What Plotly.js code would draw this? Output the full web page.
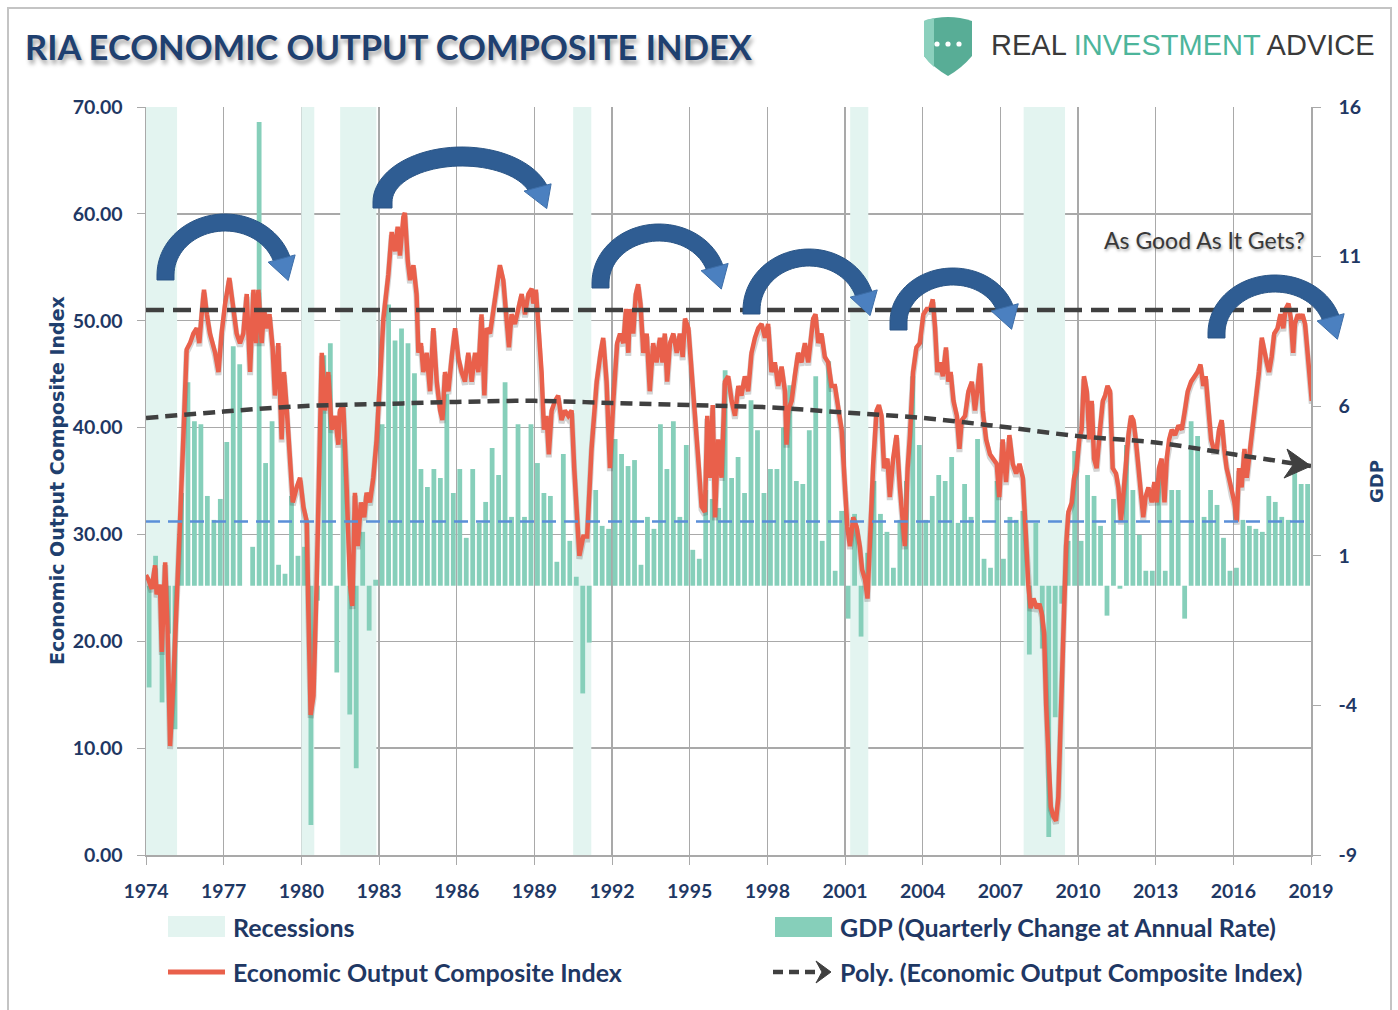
<!DOCTYPE html>
<html><head><meta charset="utf-8">
<script src="https://cdn.plot.ly/plotly-3.0.1.min.js"></script>
<style>html,body{margin:0;padding:0;background:#fff}#chart{width:1398px;height:1010px}</style>
</head><body><div id="chart"></div>
<script>
// ---------------- DATA ----------------
const yearTicks = [1974,1977,1980,1983,1986,1989,1992,1995,1998,2001,2004,2007,2010,2013,2016,2019];
const yearLabels = yearTicks.map(String);
const gdpTicks = [-9,-4,1,6,11,16];
const gdpTickLabels = gdpTicks.map(String);

const recessionStart = [1974.0, 1980.0, 1981.5, 1990.5, 2001.2, 2007.9];
const recessionEnd   = [1975.2, 1980.5, 1982.9, 1991.2, 2001.9, 2009.5];

const gdpFirstYear = 1974; // quarterly, starting 1974 Q1
const gdpValues = [
 -3.4, 1.0,-3.9,-1.6,  -4.8, 3.1, 6.8, 5.5,   5.4, 3.0, 2.2, 2.9,   4.8, 8.0, 7.4, 0.0,
  1.3,15.5, 4.1, 5.5,   0.7, 0.4, 3.0, 1.0,   1.3,-8.0,-0.5, 7.7,   8.1,-2.9, 4.9,-4.3,
 -6.1, 1.8,-1.5, 0.2,   5.4, 9.4, 8.2, 8.6,   8.1, 7.1, 3.9, 3.3,   3.9, 3.6, 6.4, 3.1,
  3.9, 1.6, 3.9, 2.1,   2.8, 4.6, 3.7, 6.8,   2.3, 5.4, 2.3, 5.4,   4.1, 3.1, 3.0, 0.8,
  4.4, 1.5, 0.3,-3.6,  -1.9, 3.2, 2.0, 1.9,   4.9, 4.4, 4.0, 4.2,   0.7, 2.3, 1.9, 5.4,
  3.9, 5.5, 2.3, 4.7,   1.2, 0.9, 3.2, 2.9,   2.6, 7.2, 3.6, 4.3,   3.1, 6.2, 5.2, 3.1,
  3.9, 3.9, 5.3, 6.7,   3.5, 3.4, 5.2, 7.0,   1.5, 7.5, 0.5, 2.5,  -1.1, 2.4,-1.7, 1.1,
  3.5, 2.4, 1.8, 0.6,   2.2, 3.5, 7.0, 4.7,   2.2, 3.0, 3.7, 3.5,   4.3, 2.1, 3.4, 2.3,
  4.9, 0.9, 0.6, 3.5,   0.9, 2.3, 2.2, 2.5,  -2.3, 2.1,-2.1,-8.4,  -4.4,-0.6, 1.5, 4.5,
  1.5, 3.7, 3.0, 2.0,  -1.0, 2.9,-0.1, 4.7,   3.2, 1.7, 0.5, 0.5,   3.6, 0.5, 3.2, 3.2,
 -1.1, 5.5, 5.0, 2.3,   3.2, 2.7, 1.6, 0.5,   0.6, 2.2, 2.0, 1.9,   1.8, 3.0, 2.8, 2.3,
  2.2, 3.8, 3.4, 3.4
];

const eociDates = [
 1974.00,1974.09,1974.22,1974.35,1974.41,1974.54,1974.61,1974.74,1974.83,1974.93,1975.06,1975.19,1975.32,1975.44,1975.57,1975.70,1975.83,1975.96,
 1976.06,1976.15,1976.24,1976.35,1976.47,1976.67,1976.80,1976.92,1977.05,1977.22,1977.38,1977.50,1977.63,1977.76,1977.89,1978.02,1978.15,1978.25,
 1978.34,1978.47,1978.56,1978.66,1978.77,1978.89,1978.98,1979.11,1979.24,1979.33,1979.44,1979.56,1979.67,1979.82,1979.95,1980.08,1980.21,1980.27,
 1980.36,1980.47,1980.59,1980.79,1980.92,1981.04,1981.17,1981.30,1981.43,
 1981.49,1981.62,1981.75,1981.88,1981.97,1982.07,1982.18,1982.30,1982.43,1982.52,1982.65,1982.78,1982.91,1983.04,1983.17,1983.36,1983.49,1983.62,
 1983.72,1983.81,1983.94,1984.00,1984.11,1984.20,1984.33,1984.45,1984.52,1984.62,1984.71,1984.84,1984.97,1985.10,1985.23,1985.36,1985.45,1985.55,
 1985.68,1985.81,1985.94,1986.06,1986.19,1986.32,1986.45,1986.58,1986.71,1986.84,1986.96,1987.07,1987.16,1987.29,1987.42,1987.54,1987.67,1987.80,
 1987.93,1988.02,1988.12,1988.25,1988.38,1988.51,1988.64,1988.77,1988.90,
 1988.96,1989.06,1989.15,1989.28,1989.37,1989.47,1989.56,1989.67,1989.80,1989.92,1990.05,1990.18,1990.31,1990.44,1990.54,1990.63,1990.74,1990.89,
 1991.04,1991.21,1991.41,1991.56,1991.66,1991.79,1991.92,1992.05,1992.20,1992.31,1992.44,1992.54,1992.63,1992.69,1992.82,1992.92,1993.01,1993.10,
 1993.21,1993.34,1993.46,1993.59,1993.72,1993.85,1993.95,1994.04,1994.13,1994.24,1994.37,1994.50,1994.62,1994.73,1994.82,1994.95,1995.07,1995.20,
 1995.33,1995.46,1995.59,1995.68,1995.78,1995.89,1995.98,1996.10,1996.23,1996.36,1996.49,
 1996.62,1996.75,1996.88,1997.00,1997.13,1997.26,1997.39,1997.52,1997.65,1997.78,1997.91,1998.03,1998.16,1998.29,1998.42,1998.55,1998.68,1998.74,
 1998.81,1998.94,1999.06,1999.19,1999.32,1999.45,1999.58,1999.64,1999.77,1999.86,1999.97,2000.09,2000.22,2000.35,2000.48,2000.61,2000.74,2000.87,
 2001.00,2001.09,2001.19,2001.32,2001.45,2001.57,2001.66,2001.77,2001.87,2001.96,2002.09,2002.22,2002.31,2002.41,2002.51,2002.64,2002.73,2002.86,
 2002.99,2003.12,2003.25,2003.31,2003.42,2003.51,2003.63,2003.76,2003.89,
 2004.03,2004.16,2004.29,2004.39,2004.48,2004.57,2004.67,2004.78,2004.90,2004.99,2005.08,2005.19,2005.32,2005.42,2005.51,2005.64,2005.77,2005.90,
 2006.02,2006.11,2006.22,2006.32,2006.45,2006.60,2006.73,2006.86,2006.96,2007.09,2007.22,2007.35,2007.48,2007.61,2007.74,2007.87,2007.99,2008.08,
 2008.17,2008.28,2008.41,2008.51,2008.60,2008.69,2008.77,2008.86,2008.95,2009.05,2009.15,2009.24,2009.33,2009.44,2009.54,2009.63,2009.76,2009.85,
 2009.95,2010.05,2010.14,2010.23,2010.34,2010.44,2010.53,2010.62,2010.72,2010.85,2010.96,2011.05,2011.14,2011.24,2011.34,2011.47,
 2011.56,2011.66,2011.75,2011.84,2011.95,2012.05,2012.14,2012.23,2012.33,2012.43,2012.52,2012.61,2012.72,2012.85,2012.95,2013.04,2013.13,2013.23,
 2013.34,2013.43,2013.52,2013.62,2013.75,2013.88,2014.01,2014.13,2014.24,2014.37,2014.49,2014.62,2014.73,2014.84,2014.93,2015.04,2015.14,2015.24,
 2015.36,2015.45,2015.55,2015.65,2015.74,2015.83,2015.94,2016.04,2016.13,2016.22,2016.32,2016.43,2016.52,2016.61,2016.71,2016.81,2016.90,2016.99,
 2017.10,2017.20,2017.29,2017.38,2017.48,2017.58,2017.71,2017.82,2017.93,2018.02,2018.13,2018.22,2018.31,2018.38,2018.49,2018.58,2018.67,2018.77,
 2018.87,2018.96,2019.03
];
const eociValues = [
 26.2,25.8,24.9,27.1,24.4,25.3,19.0,27.4,21.3,10.2,16.3,23.1,31.6,38.9,47.3,47.9,48.8,49.3,
 47.9,50.6,52.9,50.6,48.8,47.0,45.2,48.8,51.5,54.0,51.1,48.8,47.9,48.8,52.5,45.2,52.9,47.9,
 52.9,47.9,51.1,49.3,50.6,47.5,43.0,47.9,38.9,45.2,41.6,37.1,33.0,34.4,35.3,32.6,31.2,23.1,
 13.1,14.9,25.3,47.0,41.6,45.2,39.8,41.1,38.4,
 41.6,42.1,34.4,25.3,23.3,33.9,28.9,33.0,31.6,33.9,33.0,35.3,38.9,44.3,50.2,54.3,58.3,56.5,
 58.8,56.1,59.7,60.1,55.6,53.8,55.2,52.5,47.0,47.9,45.2,47.0,43.4,49.3,44.3,41.6,40.7,45.2,
 43.4,46.6,49.3,46.6,45.2,44.3,47.0,44.3,47.0,45.2,50.6,43.0,49.3,48.8,51.1,53.4,55.2,53.8,
 50.2,47.5,50.6,49.7,51.1,52.5,50.6,52.5,53.0,
 51.6,52.9,49.3,45.2,39.8,41.1,37.5,41.6,42.5,43.0,40.7,41.6,41.1,41.6,36.2,33.0,28.0,29.8,
 29.8,38.0,44.3,47.0,48.4,44.3,36.2,42.5,47.9,48.8,47.9,51.1,47.0,51.1,48.8,52.5,53.4,51.6,
 47.0,48.8,43.4,47.9,46.1,48.4,46.1,48.8,44.3,47.9,48.8,47.0,48.8,46.6,50.2,49.3,45.7,41.6,
 37.1,32.6,32.1,41.1,35.3,42.1,31.6,38.9,35.3,44.3,44.8,
 42.5,41.1,43.9,43.0,44.8,43.4,47.0,48.4,49.3,49.7,48.4,49.7,45.2,46.1,43.9,45.7,43.4,38.4,
 41.6,42.5,44.8,47.0,46.1,47.9,46.1,47.5,50.2,50.6,47.9,48.8,46.6,46.1,43.9,43.9,41.6,39.8,
 34.4,30.7,28.9,31.6,30.7,28.9,26.7,25.8,24.0,29.8,36.6,41.6,42.1,41.1,36.2,37.1,33.5,37.1,
 39.3,34.4,30.7,28.9,36.2,39.3,45.2,47.5,47.9,
 50.6,51.1,51.1,52.0,49.3,45.2,46.1,44.8,47.5,44.3,45.2,42.5,41.1,38.0,40.7,41.1,43.4,44.3,
 41.6,43.4,46.0,41.6,38.9,37.5,37.1,36.6,33.5,38.9,34.9,39.3,36.6,35.7,36.6,35.3,29.8,25.3,
 23.1,24.0,23.1,23.5,22.6,20.8,14.0,8.1,4.5,3.6,3.2,5.4,12.7,20.8,28.9,32.1,33.0,35.3,
 36.2,38.9,39.8,44.8,43.4,38.9,42.5,37.1,36.2,39.8,42.5,43.0,43.9,43.4,36.2,35.7,
 34.4,31.2,33.9,37.1,39.3,41.1,40.7,38.9,36.2,33.5,31.6,33.5,34.4,33.0,34.9,33.0,36.2,37.1,
 33.0,37.1,38.9,39.8,39.3,40.2,39.8,41.6,43.4,44.3,44.8,45.2,45.9,43.9,44.8,41.6,38.9,38.0,
 38.0,39.8,40.7,38.0,36.2,35.3,33.9,33.0,31.2,36.2,34.4,38.0,35.3,37.1,39.3,41.6,43.4,45.2,
 48.4,47.0,46.1,45.2,46.6,48.8,49.3,50.6,49.3,51.1,51.6,50.2,47.0,49.7,50.6,50.2,50.6,49.7,
 47.0,43.4,42.5
];

const trendYears  = yearTicks;
const trendValues = [40.9,41.5,42.0,42.2,42.4,42.5,42.3,42.1,41.9,41.4,40.9,40.1,39.2,38.6,37.5,36.4];

const upperLevel = 51.0;   // black dashed reference line
const lowerLevel = 31.2;   // blue dashed reference line
const indexRange = [0, 70];

// ---------------- LAYOUT HELPERS ----------------
const W = 1398, H = 1010;
const PL = 146, PR = 1311, PT = 107, PB = 855;
const px = x => (x - PL) / (PR - PL);
const py = y => (PB - y) / (PB - PT);
const P = (x, y) => px(x).toFixed(5) + ',' + py(y).toFixed(5);

const LATO = 'Lato, "Liberation Sans", sans-serif';
const NAVY = '#1f3864';
const GRID = '#a9a9a9';

// drop-shadow offset of the index line: 3 px expressed in index units
const shadowShift = 3 * (indexRange[1] - indexRange[0]) / (PB - PT);

// ---------------- TRACES ----------------
// y: GDP bars (right axis, base layer); y2: shadow of index line; y3: index line + reference lines (left axis)
const xFirst = yearTicks[0], xLast = yearTicks[yearTicks.length - 1];
const gdpX = gdpValues.map((v, i) => gdpFirstYear + i * 0.25 + 0.12);

const traces = [
  { type: 'bar', yaxis: 'y', name: 'Recessions',
    x: recessionStart.map((s, i) => (s + recessionEnd[i]) / 2),
    width: recessionStart.map((s, i) => recessionEnd[i] - s),
    y: recessionStart.map(() => gdpTicks[gdpTicks.length-1] - gdpTicks[0]),
    base: gdpTicks[0],
    marker: { color: '#e3f4f0', line: { width: 0 } } },
  { type: 'bar', yaxis: 'y', name: 'GDP (Quarterly Change at Annual Rate)',
    x: gdpX, y: gdpValues, width: 0.185,
    marker: { color: '#86cfba', line: { width: 0 } } },
  { type: 'scatter', mode: 'lines', yaxis: 'y2', name: 'shadow',
    x: eociDates, y: eociValues,
    line: { color: 'rgba(60,60,60,0.22)', width: 6 } },
  { type: 'scatter', mode: 'lines', yaxis: 'y3', name: 'Economic Output Composite Index',
    x: eociDates, y: eociValues,
    line: { color: '#e9604b', width: 4.5 } },
  { type: 'scatter', mode: 'lines', yaxis: 'y3', name: 'lower',
    x: [xFirst, xLast], y: [lowerLevel, lowerLevel],
    line: { color: '#5b8fd8', width: 2.5, dash: '14px,8px' } },
  { type: 'scatter', mode: 'lines', yaxis: 'y3', name: 'upper',
    x: [xFirst, xLast], y: [upperLevel, upperLevel],
    line: { color: '#404040', width: 4.5, dash: '18px,9px' } },
  { type: 'scatter', mode: 'lines', yaxis: 'y3', name: 'Poly. (Economic Output Composite Index)',
    x: trendYears, y: trendValues,
    line: { color: '#404040', width: 4.5, dash: '12px,7px', shape: 'spline' } }
];

// ---------------- CURVED ARROWS ----------------
function arrowShapes(a) {
  const { cx, cy, rx, ry, t, leg } = a;
  const te = 15 * Math.PI / 180, hw = 14, hl = 20, N = 40;
  const outer = [], inner = [];
  for (let i = 0; i <= N; i++) {
    const ang = Math.PI - (Math.PI - te) * i / N;
    outer.push([cx + rx * Math.cos(ang), cy - ry * Math.sin(ang)]);
  }
  for (let i = 0; i <= N; i++) {
    const ang = te + (Math.PI - te) * i / N;
    inner.push([cx + (rx - t) * Math.cos(ang), cy - (ry - t) * Math.sin(ang)]);
  }
  const oE = outer[outer.length - 1], iE = inner[0];
  const mid = [(oE[0] + iE[0]) / 2, (oE[1] + iE[1]) / 2];
  let nx = oE[0] - iE[0], ny = oE[1] - iE[1]; const nl = Math.hypot(nx, ny); nx /= nl; ny /= nl;
  let dx = rx * Math.sin(te), dy = ry * Math.cos(te); const dl = Math.hypot(dx, dy); dx /= dl; dy /= dl;
  let body = 'M' + outer.map(p => P(p[0], p[1])).join(' L');
  body += ' L' + inner.map(p => P(p[0], p[1])).join(' L');
  body += ' L' + P(cx - rx + t, leg) + ' L' + P(cx - rx, leg) + ' Z';
  const back = 3;
  const hb = [mid[0] - dx * back, mid[1] - dy * back];
  const head = 'M' + P(hb[0] + nx * hw, hb[1] + ny * hw) + ' L' + P(mid[0] + dx * hl, mid[1] + dy * hl) +
               ' L' + P(hb[0] - nx * hw, hb[1] - ny * hw) + ' Z';
  return [
    { type: 'path', xref: 'paper', yref: 'paper', path: body, fillcolor: '#2f5d93', line: { color: '#2a5586', width: 1 }, layer: 'above' },
    { type: 'path', xref: 'paper', yref: 'paper', path: head, fillcolor: '#4b80c0', line: { color: '#3d6ea8', width: 1 }, layer: 'above' }
  ];
}
const arrows = [
  { cx: 225, cy: 275, rx: 68, ry: 61, t: 17, leg: 280 },
  { cx: 462, cy: 202, rx: 89, ry: 55, t: 19, leg: 208 },
  { cx: 659, cy: 283, rx: 67, ry: 59, t: 17, leg: 288 },
  { cx: 809, cy: 310, rx: 66, ry: 61, t: 17, leg: 314 },
  { cx: 953, cy: 322, rx: 63, ry: 54, t: 17, leg: 330 },
  { cx: 1275, cy: 333, rx: 67, ry: 58, t: 17, leg: 338 }
];

const shapes = [];
arrows.forEach(a => shapes.push(...arrowShapes(a)));

// trend-line arrowhead anchored at the last trend point
shapes.push({ type: 'path', xref: 'x', yref: 'y3', xsizemode: 'pixel', ysizemode: 'pixel',
  xanchor: trendYears[trendYears.length - 1], yanchor: trendValues[trendValues.length - 1],
  path: 'M-24,17 L0,0 L-27,-12 L-18,1 Z', fillcolor: '#404040', line: { color: '#404040', width: 1 } });

// outer frame
shapes.push({ type: 'rect', xref: 'paper', yref: 'paper', x0: px(8), x1: px(1391), y0: py(8), y1: py(1030),
  line: { color: '#c4c4c4', width: 2 }, fillcolor: 'rgba(0,0,0,0)' });

// logo shield
shapes.push({ type: 'path', xref: 'paper', yref: 'paper',
  path: `M${P(924,21)} Q${P(948,13)} ${P(972,21)} L${P(972,56)} Q${P(962,68)} ${P(948,76)} Q${P(934,68)} ${P(924,56)} Z`,
  fillcolor: '#58ad96', line: { width: 0 } });
shapes.push({ type: 'path', xref: 'paper', yref: 'paper',
  path: `M${P(924,21)} Q${P(929,19)} ${P(934,18)} L${P(934,67)} Q${P(928,62)} ${P(924,56)} Z`,
  fillcolor: '#8bd0bd', line: { width: 0 } });
[937, 948, 959].forEach(cxp => shapes.push({ type: 'circle', xref: 'paper', yref: 'paper',
  x0: px(cxp - 2.6), x1: px(cxp + 2.6), y0: py(46.6), y1: py(41.4), fillcolor: '#ffffff', line: { width: 0 } }));

// legend swatches
shapes.push({ type: 'rect', xref: 'paper', yref: 'paper', x0: px(168), x1: px(225), y0: py(937), y1: py(916), fillcolor: '#e3f4f0', line: { width: 0 } });
shapes.push({ type: 'rect', xref: 'paper', yref: 'paper', x0: px(775), x1: px(832), y0: py(937), y1: py(917), fillcolor: '#86cfba', line: { width: 0 } });
shapes.push({ type: 'line', xref: 'paper', yref: 'paper', x0: px(168), x1: px(225), y0: py(972), y1: py(972), line: { color: '#e9604b', width: 5 } });
shapes.push({ type: 'line', xref: 'paper', yref: 'paper', x0: px(773), x1: px(820), y0: py(972), y1: py(972), line: { color: '#404040', width: 4.5, dash: '10px,6px' } });
shapes.push({ type: 'path', xref: 'paper', yref: 'paper',
  path: `M${P(816,961)} L${P(831,972)} L${P(816,983)} L${P(822,972)} Z`, fillcolor: '#404040', line: { color: '#404040', width: 1 } });

// ---------------- ANNOTATIONS ----------------
const legFont = { family: LATO, size: 25, color: NAVY, weight: 'bold' };
const annotations = [
  { xref: 'paper', yref: 'paper', x: px(1307), y: py(240), xanchor: 'right', yanchor: 'middle', showarrow: false,
    text: 'As Good As It Gets?', font: { family: LATO, size: 23, color: '#383838', shadow: '1px 2px 3px rgba(0,0,0,0.35)' } },
  { xref: 'paper', yref: 'paper', x: px(989), y: py(45), xanchor: 'left', yanchor: 'middle', showarrow: false,
    text: 'REAL <span style="color:#4db59b">INVESTMENT</span> ADVICE',
    font: { family: '"Liberation Sans", Arial, sans-serif', size: 29, color: '#3a3a3a' } },
  { xref: 'paper', yref: 'paper', x: px(57), y: py(481), xanchor: 'center', yanchor: 'middle', showarrow: false, textangle: -90,
    text: 'Economic Output Composite Index', font: { family: '"DejaVu Sans", sans-serif', size: 19, color: '#1f3f6e', weight: 'bold' } },
  { xref: 'paper', yref: 'paper', x: px(1376), y: py(482), xanchor: 'center', yanchor: 'middle', showarrow: false, textangle: -90,
    text: 'GDP', font: { family: '"DejaVu Sans", sans-serif', size: 18, color: '#1f3f6e', weight: 'bold' } },
  { xref: 'paper', yref: 'paper', x: px(231), y: py(927), xanchor: 'left', yanchor: 'middle', showarrow: false, text: 'Recessions', font: legFont },
  { xref: 'paper', yref: 'paper', x: px(838), y: py(927), xanchor: 'left', yanchor: 'middle', showarrow: false, text: 'GDP (Quarterly Change at Annual Rate)', font: legFont },
  { xref: 'paper', yref: 'paper', x: px(231), y: py(972), xanchor: 'left', yanchor: 'middle', showarrow: false, text: 'Economic Output Composite Index', font: legFont },
  { xref: 'paper', yref: 'paper', x: px(838), y: py(972), xanchor: 'left', yanchor: 'middle', showarrow: false, text: 'Poly. (Economic Output Composite Index)', font: legFont }
];

const tickFont = { family: LATO, size: 19.5, color: NAVY, weight: 'bold' };

const layout = {
  width: W, height: H, autosize: false,
  margin: { l: PL, r: W - PR, t: PT, b: H - PB, pad: 0 },
  paper_bgcolor: '#ffffff', plot_bgcolor: '#ffffff',
  showlegend: false, hovermode: false, barmode: 'overlay',
  title: { text: 'RIA ECONOMIC OUTPUT COMPOSITE INDEX', xref: 'container', yref: 'container',
    x: 25 / W, xanchor: 'left', y: 1 - 48 / H, yanchor: 'middle',
    font: { family: LATO, size: 34.5, color: '#1f4070', weight: 'bold', shadow: '2px 4px 4px rgba(0,0,0,0.35)' } },
  xaxis: { range: [xFirst, xLast], tickvals: yearTicks, ticktext: yearLabels,
    showgrid: true, gridcolor: GRID, gridwidth: 1.3, zeroline: false,
    showline: true, linecolor: GRID, linewidth: 1.5, ticks: 'outside', ticklen: 8, tickcolor: GRID,
    ticklabelstandoff: 10, tickfont: tickFont },
  yaxis: { side: 'right', range: [gdpTicks[0], gdpTicks[gdpTicks.length - 1]], tickvals: gdpTicks, ticktext: gdpTickLabels,
    showgrid: false, zeroline: false, showline: true, linecolor: GRID, linewidth: 1.5,
    ticks: 'outside', ticklen: 8, tickcolor: GRID, ticklabelstandoff: 14, tickfont: tickFont },
  yaxis2: { overlaying: 'y', visible: false, range: [indexRange[0] + shadowShift, indexRange[1] + shadowShift] },
  yaxis3: { overlaying: 'y', side: 'left', range: indexRange, dtick: 10, tickformat: '.2f',
    showgrid: true, gridcolor: GRID, gridwidth: 1.3, zeroline: false,
    showline: true, linecolor: GRID, linewidth: 1.5, ticks: 'outside', ticklen: 8, tickcolor: GRID,
    ticklabelstandoff: 10, tickfont: tickFont },
  shapes: shapes,
  annotations: annotations
};

Plotly.newPlot('chart', traces, layout, { displayModeBar: false, staticPlot: true });
</script>
</body></html>
